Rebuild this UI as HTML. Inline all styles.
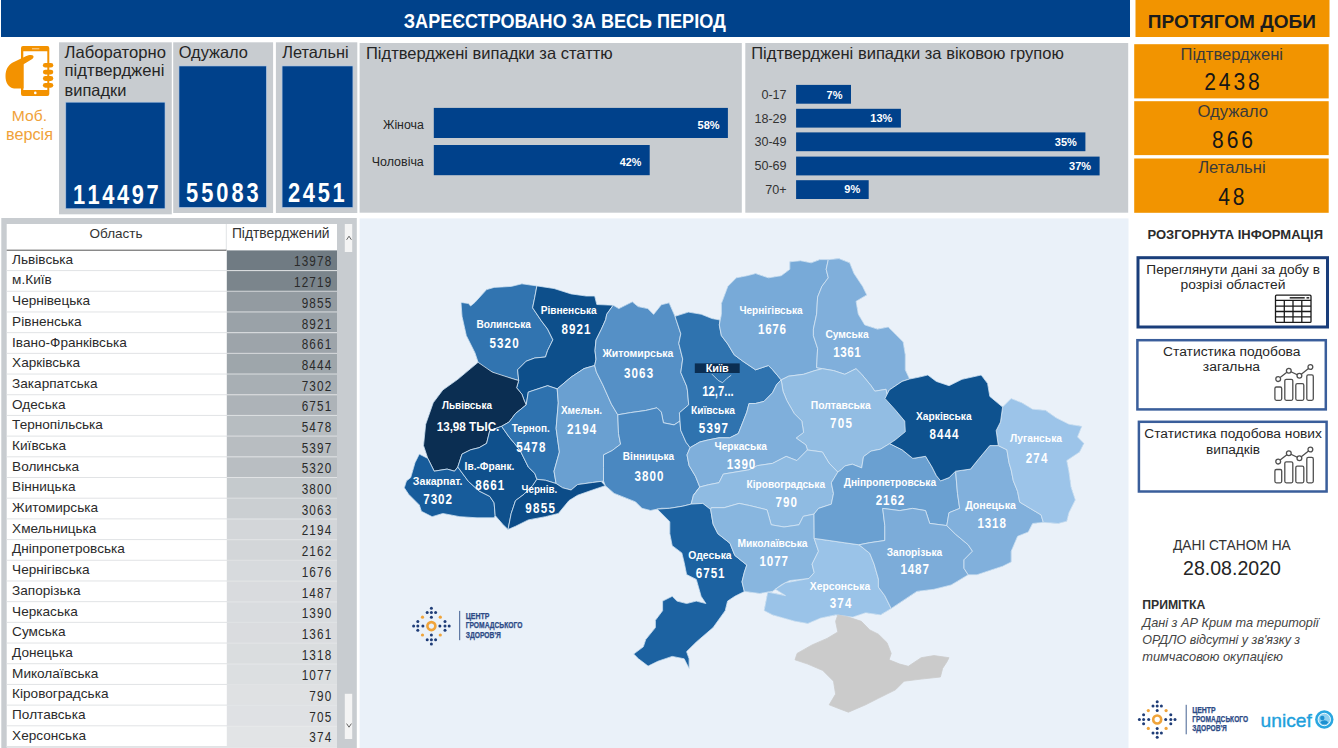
<!DOCTYPE html>
<html><head><meta charset="utf-8"><title>dashboard</title>
<style>
html,body{margin:0;padding:0;width:1338px;height:748px;overflow:hidden;background:#fff}
svg{display:block;font-family:"Liberation Sans",sans-serif}
</style></head><body>
<svg width="1338" height="748" viewBox="0 0 1338 748">
<rect x="1" y="0" width="1129" height="37" fill="#00428b"/>
<text x="403.8" y="28" font-size="20" font-weight="bold" fill="#fff" text-anchor="start" textLength="322" lengthAdjust="spacingAndGlyphs">ЗАРЕЄСТРОВАНО ЗА ВЕСЬ ПЕРІОД</text>
<rect x="1135.5" y="0" width="194" height="37" fill="#f29400"/>
<text x="1147.8" y="27.8" font-size="19" font-weight="bold" fill="#1c1c1c" text-anchor="start" textLength="168" lengthAdjust="spacingAndGlyphs">ПРОТЯГОМ ДОБИ</text>
<g fill="#f39200">
<path d="M23,46 h24.3 a2,2 0 0 1 2,2 v46.1 a2,2 0 0 1 -2,2 h-24.3 a2,2 0 0 1 -2,-2 v-46.1 a2,2 0 0 1 2,-2 z M23.3,51.2 v38.9 h24 v-38.9 z" fill-rule="evenodd"/>
<path d="M33,55.6 C32,54.4 28.5,55 25.8,56.2 L12.8,62.6 C8.2,65.2 5.6,69.8 5.5,76 C5.4,82.5 8.2,87.6 14,88.4 L23.6,88.4 L23.6,64.2 L31,59.8 C33.6,58.4 34.2,57 33,55.6 z"/>
<rect x="42.9" y="62.9" width="10.4" height="4.6" rx="2.3"/>
<rect x="42.9" y="69.7" width="10.4" height="4.8" rx="2.4"/>
<rect x="42.9" y="76.1" width="10.4" height="4.8" rx="2.4"/>
<rect x="42.9" y="82.9" width="10.4" height="4.8" rx="2.4"/>
</g>
<rect x="32" y="48" width="7.3" height="1.4" fill="#f8c070"/>
<circle cx="35.3" cy="92.9" r="1.3" fill="#fff"/>
<text x="11.8" y="120.7" font-size="15.5" fill="#f0a23a" text-anchor="start" textLength="35.2" lengthAdjust="spacingAndGlyphs">Моб.</text>
<text x="6" y="139.5" font-size="16" fill="#f0a23a" text-anchor="start" textLength="47" lengthAdjust="spacingAndGlyphs">версія</text>
<rect x="59" y="42.3" width="112.8" height="172" fill="#c8ccd0"/>
<rect x="173.2" y="42.3" width="99.9" height="170.7" fill="#c8ccd0"/>
<rect x="275.9" y="42.3" width="81.4" height="170.7" fill="#c8ccd0"/>
<rect x="65.8" y="102.2" width="99.2" height="106.5" fill="#00418b" stroke="#a9c4e4" stroke-width="0.6"/>
<rect x="179" y="66" width="87.3" height="141.3" fill="#00418b" stroke="#a9c4e4" stroke-width="0.6"/>
<rect x="282.1" y="66" width="70.8" height="141.3" fill="#00418b" stroke="#a9c4e4" stroke-width="0.6"/>
<text x="64.6" y="57.5" font-size="16.5" fill="#252525" text-anchor="start" textLength="101.3" lengthAdjust="spacingAndGlyphs">Лабораторно</text>
<text x="64.6" y="76.2" font-size="16.5" fill="#252525" text-anchor="start" textLength="99.8" lengthAdjust="spacingAndGlyphs">підтверджені</text>
<text x="64.6" y="95.7" font-size="16.5" fill="#252525" text-anchor="start" textLength="61.7" lengthAdjust="spacingAndGlyphs">випадки</text>
<text x="178.7" y="58" font-size="16.5" fill="#252525" text-anchor="start" textLength="69.3" lengthAdjust="spacingAndGlyphs">Одужало</text>
<text x="282.2" y="58" font-size="16.5" fill="#252525" text-anchor="start" textLength="66.4" lengthAdjust="spacingAndGlyphs">Летальні</text>
<g transform="scale(0.81,1)"><text x="89.98 108.17 126.36 144.55 162.74 180.93" y="203.8" font-size="27" font-weight="bold" fill="#fff">114497</text></g>
<g transform="scale(0.81,1)"><text x="229.63 248.35 267.06 285.78 304.49" y="202.5" font-size="27" font-weight="bold" fill="#fff">55083</text></g>
<g transform="scale(0.81,1)"><text x="355.60 373.90 392.20 410.50" y="202.5" font-size="27" font-weight="bold" fill="#fff">2451</text></g>
<rect x="359.6" y="43" width="382.2" height="169.7" fill="#c8ccd0"/>
<text x="366" y="59.2" font-size="16.5" fill="#252525" text-anchor="start" textLength="246.7" lengthAdjust="spacingAndGlyphs">Підтверджені випадки за статтю</text>
<rect x="433.8" y="107.9" width="294.1" height="30.1" fill="#00418b"/>
<rect x="433.8" y="145" width="215.9" height="30.2" fill="#00418b"/>
<text x="423.8" y="128.6" font-size="12.3" fill="#252525" text-anchor="end" textLength="40.8" lengthAdjust="spacingAndGlyphs">Жіноча</text>
<text x="423.8" y="165.5" font-size="12.3" fill="#252525" text-anchor="end" textLength="52" lengthAdjust="spacingAndGlyphs">Чоловіча</text>
<text x="719.6" y="128.6" font-size="11" font-weight="bold" fill="#fff" text-anchor="end" textLength="22.1" lengthAdjust="spacingAndGlyphs">58%</text>
<text x="641.4" y="165.5" font-size="11" font-weight="bold" fill="#fff" text-anchor="end" textLength="21.6" lengthAdjust="spacingAndGlyphs">42%</text>
<rect x="745.3" y="43" width="382.9" height="169.7" fill="#c8ccd0"/>
<text x="751.2" y="59.2" font-size="16.5" fill="#252525" text-anchor="start" textLength="312.7" lengthAdjust="spacingAndGlyphs">Підтверджені випадки за віковою групою</text>
<rect x="796.1" y="84.9" width="54.89999999999998" height="18.8" fill="#00418b"/>
<text x="786.6" y="99" font-size="12.6" fill="#333" text-anchor="end">0-17</text>
<text x="842.5" y="98.5" font-size="11" font-weight="bold" fill="#fff" text-anchor="end">7%</text>
<rect x="796.1" y="108.8" width="104.79999999999995" height="18.8" fill="#00418b"/>
<text x="786.6" y="122.7" font-size="12.6" fill="#333" text-anchor="end">18-29</text>
<text x="892.4" y="122.2" font-size="11" font-weight="bold" fill="#fff" text-anchor="end">13%</text>
<rect x="796.1" y="132.4" width="289.30000000000007" height="18.8" fill="#00418b"/>
<text x="786.6" y="146.3" font-size="12.6" fill="#333" text-anchor="end">30-49</text>
<text x="1076.9" y="145.8" font-size="11" font-weight="bold" fill="#fff" text-anchor="end">35%</text>
<rect x="796.1" y="156.6" width="303.4999999999999" height="18.8" fill="#00418b"/>
<text x="786.6" y="170" font-size="12.6" fill="#333" text-anchor="end">50-69</text>
<text x="1091.1" y="169.5" font-size="11" font-weight="bold" fill="#fff" text-anchor="end">37%</text>
<rect x="796.1" y="180.2" width="72.60000000000002" height="18.8" fill="#00418b"/>
<text x="786.6" y="193.5" font-size="12.6" fill="#333" text-anchor="end">70+</text>
<text x="860.2" y="193.0" font-size="11" font-weight="bold" fill="#fff" text-anchor="end">9%</text>
<rect x="1134.2" y="44.2" width="194.5" height="54.2" fill="#f29400"/>
<rect x="1134.2" y="101.2" width="194.5" height="53.9" fill="#f29400"/>
<rect x="1134.2" y="158.5" width="194.5" height="54.3" fill="#f29400"/>
<text x="1180.5" y="60.2" font-size="16" fill="#3a3a3a" text-anchor="start" textLength="102.5" lengthAdjust="spacingAndGlyphs">Підтверджені</text>
<g transform="scale(0.86,1)"><text x="1400.28 1417.26 1434.24 1451.21" y="90.5" font-size="24.5" fill="#161616">2438</text></g>
<text x="1197.4" y="117.2" font-size="16" fill="#3a3a3a" text-anchor="start" textLength="70.7" lengthAdjust="spacingAndGlyphs">Одужало</text>
<g transform="scale(0.86,1)"><text x="1409.35 1426.33 1443.31" y="148" font-size="24.5" fill="#161616">866</text></g>
<text x="1198.2" y="173.3" font-size="16" fill="#3a3a3a" text-anchor="start" textLength="67.4" lengthAdjust="spacingAndGlyphs">Летальні</text>
<g transform="scale(0.86,1)"><text x="1416.56 1433.54" y="205" font-size="24.5" fill="#161616">48</text></g>
<text x="1147.4" y="239.3" font-size="12.5" font-weight="bold" fill="#2b2b2b" text-anchor="start" textLength="175.6" lengthAdjust="spacingAndGlyphs">РОЗГОРНУТА ІНФОРМАЦІЯ</text>
<rect x="1138" y="257.7" width="189.5" height="69.3" fill="#fff" stroke="#1a3e7b" stroke-width="3"/>
<text x="1146.3" y="274.1" font-size="13.7" fill="#262626" text-anchor="start" textLength="173.7" lengthAdjust="spacingAndGlyphs">Переглянути дані за добу в</text>
<text x="1180.5" y="288.6" font-size="13.7" fill="#262626" text-anchor="start" textLength="105" lengthAdjust="spacingAndGlyphs">розрізі областей</text>
<g stroke="#1a1a1a" fill="none" stroke-width="1.3"><rect x="1275.5" y="295.2" width="35.5" height="27.2" rx="1"/><line x1="1275.5" y1="300.3" x2="1311" y2="300.3"/><line x1="1275.5" y1="306.1" x2="1311" y2="306.1"/><line x1="1275.5" y1="311.5" x2="1311" y2="311.5"/><line x1="1275.5" y1="316.9" x2="1311" y2="316.9"/><line x1="1284.3" y1="300.3" x2="1284.3" y2="322.4"/><line x1="1293" y1="300.3" x2="1293" y2="322.4"/><line x1="1301.8" y1="300.3" x2="1301.8" y2="322.4"/></g>
<rect x="1289.7" y="297" width="15" height="1.6" fill="#333"/>
<rect x="1306.5" y="297" width="2.7" height="1.6" fill="#333"/>
<rect x="1137.4" y="340.2" width="188.4" height="69.2" fill="#fff" stroke="#3a5e9b" stroke-width="2.5"/>
<text x="1163.1" y="356" font-size="13.7" fill="#262626" text-anchor="start" textLength="137.4" lengthAdjust="spacingAndGlyphs">Статистика подобова</text>
<text x="1202.8" y="371.4" font-size="13.7" fill="#262626" text-anchor="start" textLength="57.3" lengthAdjust="spacingAndGlyphs">загальна</text>
<rect x="1138.9" y="421.8" width="187.7" height="69.7" fill="#fff" stroke="#3a5e9b" stroke-width="2.5"/>
<text x="1144.3" y="438.2" font-size="13.7" fill="#262626" text-anchor="start" textLength="177.6" lengthAdjust="spacingAndGlyphs">Статистика подобова нових</text>
<text x="1206" y="454.1" font-size="13.7" fill="#262626" text-anchor="start" textLength="54.1" lengthAdjust="spacingAndGlyphs">випадків</text>
<g transform="translate(1274.5,364.8)" stroke="#505050" fill="none" stroke-width="1.3"><rect x="0.4" y="22.2" width="6.8" height="13.3" rx="1.5"/><rect x="10.3" y="14.5" width="8.0" height="21.0" rx="1.5"/><rect x="21.3" y="18.9" width="8.0" height="16.6" rx="1.5"/><rect x="32.3" y="10.1" width="6.5" height="25.4" rx="1.5"/><polyline points="3.7,14.3 14.3,5.9 24.9,11 35.9,2.2"/><circle cx="3.7" cy="14.3" r="2.4" fill="#fff"/><circle cx="14.3" cy="5.9" r="2.4" fill="#fff"/><circle cx="24.9" cy="11" r="2.4" fill="#fff"/><circle cx="35.9" cy="2.2" r="2.4" fill="#fff"/></g>
<g transform="translate(1274.5,447.3)" stroke="#505050" fill="none" stroke-width="1.3"><rect x="0.4" y="22.2" width="6.8" height="13.3" rx="1.5"/><rect x="10.3" y="14.5" width="8.0" height="21.0" rx="1.5"/><rect x="21.3" y="18.9" width="8.0" height="16.6" rx="1.5"/><rect x="32.3" y="10.1" width="6.5" height="25.4" rx="1.5"/><polyline points="3.7,14.3 14.3,5.9 24.9,11 35.9,2.2"/><circle cx="3.7" cy="14.3" r="2.4" fill="#fff"/><circle cx="14.3" cy="5.9" r="2.4" fill="#fff"/><circle cx="24.9" cy="11" r="2.4" fill="#fff"/><circle cx="35.9" cy="2.2" r="2.4" fill="#fff"/></g>
<text x="1173" y="549.7" font-size="14" fill="#333" text-anchor="start" textLength="117.8" lengthAdjust="spacingAndGlyphs">ДАНІ СТАНОМ НА</text>
<text x="1183" y="574.6" font-size="19.5" fill="#252525" text-anchor="start" textLength="97.9" lengthAdjust="spacingAndGlyphs">28.08.2020</text>
<text x="1142.2" y="608.7" font-size="12.5" font-weight="bold" fill="#2f2f2f" text-anchor="start" textLength="63.1" lengthAdjust="spacingAndGlyphs">ПРИМІТКА</text>
<text x="1142.2" y="626.6" font-size="13" font-style="italic" fill="#444" text-anchor="start" textLength="176.4" lengthAdjust="spacingAndGlyphs">Дані з АР Крим та території</text>
<text x="1142.2" y="643.8" font-size="13" font-style="italic" fill="#444" text-anchor="start" textLength="158" lengthAdjust="spacingAndGlyphs">ОРДЛО відсутні у зв&#x27;язку з</text>
<text x="1142.2" y="661" font-size="13" font-style="italic" fill="#444" text-anchor="start" textLength="140.8" lengthAdjust="spacingAndGlyphs">тимчасовою окупацією</text>
<g transform="translate(1157.2,719.5) scale(1.0)"><circle cx="0" cy="-17.8" r="1.5" fill="#1f3d78"/><circle cx="0" cy="-13.6" r="1.5" fill="#1f3d78"/><circle cx="-4.2" cy="-13.6" r="1.5" fill="#1f3d78"/><circle cx="4.2" cy="-13.6" r="1.5" fill="#1f3d78"/><circle cx="0" cy="-8.9" r="1.5" fill="#1f3d78"/><circle cx="-17.8" cy="0" r="1.5" fill="#1f3d78"/><circle cx="-13.6" cy="0" r="1.5" fill="#1f3d78"/><circle cx="-13.6" cy="-4.7" r="1.5" fill="#1f3d78"/><circle cx="-13.6" cy="4.2" r="1.5" fill="#1f3d78"/><circle cx="-8.5" cy="0" r="1.5" fill="#1f3d78"/><circle cx="0" cy="17.8" r="1.5" fill="#1f3d78"/><circle cx="0" cy="13.6" r="1.5" fill="#1f3d78"/><circle cx="-4.2" cy="13.6" r="1.5" fill="#1f3d78"/><circle cx="4.2" cy="13.6" r="1.5" fill="#1f3d78"/><circle cx="0" cy="8.9" r="1.5" fill="#1f3d78"/><circle cx="17.8" cy="0" r="1.5" fill="#1f3d78"/><circle cx="13.6" cy="0" r="1.5" fill="#1f3d78"/><circle cx="13.6" cy="-4.7" r="1.5" fill="#1f3d78"/><circle cx="13.6" cy="4.2" r="1.5" fill="#1f3d78"/><circle cx="8.5" cy="0" r="1.5" fill="#1f3d78"/><circle cx="-8.9" cy="-8.9" r="1.6" fill="#f0a43a"/><circle cx="8.9" cy="-8.9" r="1.6" fill="#f0a43a"/><circle cx="-8.9" cy="8.9" r="1.6" fill="#f0a43a"/><circle cx="8.9" cy="8.9" r="1.6" fill="#f0a43a"/><circle cx="0" cy="0" r="4" fill="none" stroke="#f0a43a" stroke-width="2.6"/></g>
<line x1="1186.2" y1="704.8" x2="1186.2" y2="734.3" stroke="#2f4f86" stroke-width="0.9"/>
<text x="1192.2" y="712.6" font-size="8.4" font-weight="bold" fill="#2c4a86" text-anchor="start" textLength="23.5" lengthAdjust="spacingAndGlyphs" stroke="#2c4a86" stroke-width="0.25">ЦЕНТР</text>
<text x="1192.2" y="722.0" font-size="8.4" font-weight="bold" fill="#2c4a86" text-anchor="start" textLength="55.9" lengthAdjust="spacingAndGlyphs" stroke="#2c4a86" stroke-width="0.25">ГРОМАДСЬКОГО</text>
<text x="1192.2" y="731.3" font-size="8.4" font-weight="bold" fill="#2c4a86" text-anchor="start" textLength="34.7" lengthAdjust="spacingAndGlyphs" stroke="#2c4a86" stroke-width="0.25">ЗДОРОВ&#x27;Я</text>
<text x="1260.6" y="726.5" font-size="18.5" fill="#1ea0dc" text-anchor="start" textLength="51.3" lengthAdjust="spacingAndGlyphs" stroke="#1ea0dc" stroke-width="0.35">unicef</text>
<g transform="translate(1324.3,719.5)"><circle r="9.2" fill="#2aa6e0"/><circle r="6.2" fill="#8fd0f0" stroke="#fff" stroke-width="0.9"/><circle cx="-2" cy="-1.5" r="2.2" fill="#1e90d0"/><path d="M-4,3 C-2,0 2,0 4,3 L2,5 -2,5z" fill="#1e90d0"/></g>
<rect x="1.3" y="218" width="355.5" height="530" fill="#c8ccd0"/>
<rect x="6.7" y="224" width="330.3" height="523.5" fill="#fff"/>
<text x="89.6" y="238.2" font-size="13.5" fill="#333" text-anchor="start" textLength="53" lengthAdjust="spacingAndGlyphs">Область</text>
<text x="231.9" y="238.2" font-size="13.8" fill="#333" text-anchor="start" textLength="97.7" lengthAdjust="spacingAndGlyphs">Підтверджений</text>
<line x1="226.3" y1="224" x2="226.3" y2="250" stroke="#e2e4e6" stroke-width="1"/>
<rect x="226.8" y="250.4" width="110.2" height="20.69" fill="#707b83"/>
<line x1="6.7" y1="270.59" x2="337" y2="270.59" stroke="#e1e3e5" stroke-width="1"/>
<text x="12.1" y="263.8" font-size="13.6" fill="#2a2a2a" text-anchor="start">Львівська</text>
<g transform="scale(0.84,1)"><text x="349.88 359.10 368.31 377.52 386.74" y="266.5" font-size="14" fill="#2a2a2a">13978</text></g>
<rect x="226.8" y="271.09" width="110.2" height="20.69" fill="#7b858c"/>
<line x1="6.7" y1="291.28" x2="337" y2="291.28" stroke="#e1e3e5" stroke-width="1"/>
<text x="12.1" y="284.49" font-size="13.6" fill="#2a2a2a" text-anchor="start">м.Київ</text>
<g transform="scale(0.84,1)"><text x="349.88 359.10 368.31 377.52 386.74" y="287.19" font-size="14" fill="#2a2a2a">12719</text></g>
<rect x="226.8" y="291.78" width="110.2" height="20.69" fill="#939ba1"/>
<line x1="6.7" y1="311.98" x2="337" y2="311.98" stroke="#e1e3e5" stroke-width="1"/>
<text x="12.1" y="305.18" font-size="13.6" fill="#2a2a2a" text-anchor="start">Чернівецька</text>
<g transform="scale(0.84,1)"><text x="359.10 368.31 377.52 386.74" y="307.88" font-size="14" fill="#2a2a2a">9855</text></g>
<rect x="226.8" y="312.48" width="110.2" height="20.69" fill="#9aa2a8"/>
<line x1="6.7" y1="332.67" x2="337" y2="332.67" stroke="#e1e3e5" stroke-width="1"/>
<text x="12.1" y="325.88" font-size="13.6" fill="#2a2a2a" text-anchor="start">Рівненська</text>
<g transform="scale(0.84,1)"><text x="359.10 368.31 377.52 386.74" y="328.58" font-size="14" fill="#2a2a2a">8921</text></g>
<rect x="226.8" y="333.17" width="110.2" height="20.69" fill="#9da4aa"/>
<line x1="6.7" y1="353.36" x2="337" y2="353.36" stroke="#e1e3e5" stroke-width="1"/>
<text x="12.1" y="346.57" font-size="13.6" fill="#2a2a2a" text-anchor="start">Івано-Франківська</text>
<g transform="scale(0.84,1)"><text x="359.10 368.31 377.52 386.74" y="349.27" font-size="14" fill="#2a2a2a">8661</text></g>
<rect x="226.8" y="353.86" width="110.2" height="20.69" fill="#9ea6ab"/>
<line x1="6.7" y1="374.05" x2="337" y2="374.05" stroke="#e1e3e5" stroke-width="1"/>
<text x="12.1" y="367.26" font-size="13.6" fill="#2a2a2a" text-anchor="start">Харківська</text>
<g transform="scale(0.84,1)"><text x="359.10 368.31 377.52 386.74" y="369.96" font-size="14" fill="#2a2a2a">8444</text></g>
<rect x="226.8" y="374.55" width="110.2" height="20.69" fill="#a8afb4"/>
<line x1="6.7" y1="394.74" x2="337" y2="394.74" stroke="#e1e3e5" stroke-width="1"/>
<text x="12.1" y="387.95" font-size="13.6" fill="#2a2a2a" text-anchor="start">Закарпатська</text>
<g transform="scale(0.84,1)"><text x="359.10 368.31 377.52 386.74" y="390.65" font-size="14" fill="#2a2a2a">7302</text></g>
<rect x="226.8" y="395.24" width="110.2" height="20.69" fill="#adb3b8"/>
<line x1="6.7" y1="415.43" x2="337" y2="415.43" stroke="#e1e3e5" stroke-width="1"/>
<text x="12.1" y="408.64" font-size="13.6" fill="#2a2a2a" text-anchor="start">Одеська</text>
<g transform="scale(0.84,1)"><text x="359.10 368.31 377.52 386.74" y="411.34" font-size="14" fill="#2a2a2a">6751</text></g>
<rect x="226.8" y="415.93" width="110.2" height="20.69" fill="#b7bdc1"/>
<line x1="6.7" y1="436.12" x2="337" y2="436.12" stroke="#e1e3e5" stroke-width="1"/>
<text x="12.1" y="429.33" font-size="13.6" fill="#2a2a2a" text-anchor="start">Тернопільська</text>
<g transform="scale(0.84,1)"><text x="359.10 368.31 377.52 386.74" y="432.03" font-size="14" fill="#2a2a2a">5478</text></g>
<rect x="226.8" y="436.62" width="110.2" height="20.69" fill="#b8bdc1"/>
<line x1="6.7" y1="456.82" x2="337" y2="456.82" stroke="#e1e3e5" stroke-width="1"/>
<text x="12.1" y="450.02" font-size="13.6" fill="#2a2a2a" text-anchor="start">Київська</text>
<g transform="scale(0.84,1)"><text x="359.10 368.31 377.52 386.74" y="452.73" font-size="14" fill="#2a2a2a">5397</text></g>
<rect x="226.8" y="457.32" width="110.2" height="20.69" fill="#b9bec2"/>
<line x1="6.7" y1="477.51" x2="337" y2="477.51" stroke="#e1e3e5" stroke-width="1"/>
<text x="12.1" y="470.72" font-size="13.6" fill="#2a2a2a" text-anchor="start">Волинська</text>
<g transform="scale(0.84,1)"><text x="359.10 368.31 377.52 386.74" y="473.42" font-size="14" fill="#2a2a2a">5320</text></g>
<rect x="226.8" y="478.01" width="110.2" height="20.69" fill="#c5cacd"/>
<line x1="6.7" y1="498.2" x2="337" y2="498.2" stroke="#e1e3e5" stroke-width="1"/>
<text x="12.1" y="491.41" font-size="13.6" fill="#2a2a2a" text-anchor="start">Вінницька</text>
<g transform="scale(0.84,1)"><text x="359.10 368.31 377.52 386.74" y="494.11" font-size="14" fill="#2a2a2a">3800</text></g>
<rect x="226.8" y="498.7" width="110.2" height="20.69" fill="#cbcfd2"/>
<line x1="6.7" y1="518.89" x2="337" y2="518.89" stroke="#e1e3e5" stroke-width="1"/>
<text x="12.1" y="512.1" font-size="13.6" fill="#2a2a2a" text-anchor="start">Житомирська</text>
<g transform="scale(0.84,1)"><text x="359.10 368.31 377.52 386.74" y="514.8" font-size="14" fill="#2a2a2a">3063</text></g>
<rect x="226.8" y="519.39" width="110.2" height="20.69" fill="#d3d6d9"/>
<line x1="6.7" y1="539.58" x2="337" y2="539.58" stroke="#e1e3e5" stroke-width="1"/>
<text x="12.1" y="532.79" font-size="13.6" fill="#2a2a2a" text-anchor="start">Хмельницька</text>
<g transform="scale(0.84,1)"><text x="359.10 368.31 377.52 386.74" y="535.49" font-size="14" fill="#2a2a2a">2194</text></g>
<rect x="226.8" y="540.08" width="110.2" height="20.69" fill="#d3d6d9"/>
<line x1="6.7" y1="560.28" x2="337" y2="560.28" stroke="#e1e3e5" stroke-width="1"/>
<text x="12.1" y="553.48" font-size="13.6" fill="#2a2a2a" text-anchor="start">Дніпропетровська</text>
<g transform="scale(0.84,1)"><text x="359.10 368.31 377.52 386.74" y="556.18" font-size="14" fill="#2a2a2a">2162</text></g>
<rect x="226.8" y="560.77" width="110.2" height="20.69" fill="#d7dadd"/>
<line x1="6.7" y1="580.97" x2="337" y2="580.97" stroke="#e1e3e5" stroke-width="1"/>
<text x="12.1" y="574.17" font-size="13.6" fill="#2a2a2a" text-anchor="start">Чернігівська</text>
<g transform="scale(0.84,1)"><text x="359.10 368.31 377.52 386.74" y="576.88" font-size="14" fill="#2a2a2a">1676</text></g>
<rect x="226.8" y="581.47" width="110.2" height="20.69" fill="#d9dbde"/>
<line x1="6.7" y1="601.66" x2="337" y2="601.66" stroke="#e1e3e5" stroke-width="1"/>
<text x="12.1" y="594.87" font-size="13.6" fill="#2a2a2a" text-anchor="start">Запорізька</text>
<g transform="scale(0.84,1)"><text x="359.10 368.31 377.52 386.74" y="597.57" font-size="14" fill="#2a2a2a">1487</text></g>
<rect x="226.8" y="602.16" width="110.2" height="20.69" fill="#d9dcdf"/>
<line x1="6.7" y1="622.35" x2="337" y2="622.35" stroke="#e1e3e5" stroke-width="1"/>
<text x="12.1" y="615.56" font-size="13.6" fill="#2a2a2a" text-anchor="start">Черкаська</text>
<g transform="scale(0.84,1)"><text x="359.10 368.31 377.52 386.74" y="618.26" font-size="14" fill="#2a2a2a">1390</text></g>
<rect x="226.8" y="622.85" width="110.2" height="20.69" fill="#dadcdf"/>
<line x1="6.7" y1="643.04" x2="337" y2="643.04" stroke="#e1e3e5" stroke-width="1"/>
<text x="12.1" y="636.25" font-size="13.6" fill="#2a2a2a" text-anchor="start">Сумська</text>
<g transform="scale(0.84,1)"><text x="359.10 368.31 377.52 386.74" y="638.95" font-size="14" fill="#2a2a2a">1361</text></g>
<rect x="226.8" y="643.54" width="110.2" height="20.69" fill="#dadddf"/>
<line x1="6.7" y1="663.73" x2="337" y2="663.73" stroke="#e1e3e5" stroke-width="1"/>
<text x="12.1" y="656.94" font-size="13.6" fill="#2a2a2a" text-anchor="start">Донецька</text>
<g transform="scale(0.84,1)"><text x="359.10 368.31 377.52 386.74" y="659.64" font-size="14" fill="#2a2a2a">1318</text></g>
<rect x="226.8" y="664.23" width="110.2" height="20.69" fill="#dcdfe1"/>
<line x1="6.7" y1="684.43" x2="337" y2="684.43" stroke="#e1e3e5" stroke-width="1"/>
<text x="12.1" y="677.63" font-size="13.6" fill="#2a2a2a" text-anchor="start">Миколаївська</text>
<g transform="scale(0.84,1)"><text x="359.10 368.31 377.52 386.74" y="680.33" font-size="14" fill="#2a2a2a">1077</text></g>
<rect x="226.8" y="684.92" width="110.2" height="20.69" fill="#dfe1e3"/>
<line x1="6.7" y1="705.12" x2="337" y2="705.12" stroke="#e1e3e5" stroke-width="1"/>
<text x="12.1" y="698.32" font-size="13.6" fill="#2a2a2a" text-anchor="start">Кіровоградська</text>
<g transform="scale(0.84,1)"><text x="368.31 377.52 386.74" y="701.02" font-size="14" fill="#2a2a2a">790</text></g>
<rect x="226.8" y="705.62" width="110.2" height="20.69" fill="#dfe1e4"/>
<line x1="6.7" y1="725.81" x2="337" y2="725.81" stroke="#e1e3e5" stroke-width="1"/>
<text x="12.1" y="719.02" font-size="13.6" fill="#2a2a2a" text-anchor="start">Полтавська</text>
<g transform="scale(0.84,1)"><text x="368.31 377.52 386.74" y="721.72" font-size="14" fill="#2a2a2a">705</text></g>
<rect x="226.8" y="726.31" width="110.2" height="20.69" fill="#e2e4e6"/>
<line x1="6.7" y1="746.5" x2="337" y2="746.5" stroke="#e1e3e5" stroke-width="1"/>
<text x="12.1" y="739.71" font-size="13.6" fill="#2a2a2a" text-anchor="start">Херсонська</text>
<g transform="scale(0.84,1)"><text x="368.31 377.52 386.74" y="742.41" font-size="14" fill="#2a2a2a">374</text></g>
<line x1="6.7" y1="250.2" x2="226.5" y2="250.2" stroke="#555" stroke-width="1"/>
<rect x="344.8" y="224" width="7.4" height="28" fill="#f4f4f4"/>
<rect x="344.8" y="693.8" width="7.4" height="45.2" fill="#f4f4f4"/>
<polyline points="346.6,239.8 349,236.2 351.4,239.8" fill="none" stroke="#555" stroke-width="0.9"/>
<polyline points="346.6,723.6 349,727.2 351.4,723.6" fill="none" stroke="#555" stroke-width="0.9"/>
<rect x="359.6" y="218.4" width="768.9" height="529.6" fill="#eaf1f9"/>
<g fill="#6a9fd0">
<polygon points="461.0,302.4 468.4,303.5 470.6,306.0 474.9,302.4 486.6,289.6 494.1,287.4 511.2,286.4 521.9,283.8 536.9,285.9 534.8,297.1 532.6,307.8 541.2,320.6 547.6,329.1 552.9,339.8 547.6,350.5 545.5,357.0 534.8,358.0 526.2,361.2 517.6,369.8 518.7,380.5 496.3,374.1 485.6,368.7 478.1,362.3 474.9,352.7 473.8,350.5 466.3,335.6 462.0,316.3"/>
<polygon points="536.9,285.9 554.0,288.5 571.1,293.9 586.1,296.0 594.7,296.0 596.8,304.5 613.2,305.2 606.7,314.3 605.7,319.6 601.4,329.2 596,340 595,350.6 596,359.2 594.7,365.5 584.0,368.6 571.1,377.1 557.2,388.9 547.6,385.7 528.3,392.1 526.2,404.9 524,400 521.9,394.2 516.6,387.8 518.7,380.5 517.6,369.8 526.2,361.2 534.8,358.0 545.5,357.0 547.6,350.5 552.9,339.8 547.6,329.1 541.2,320.6 532.6,307.8 534.8,297.1"/>
<polygon points="478.1,362.3 492.3,372.1 513.5,379.0 518.7,380.5 516.6,387.8 521.9,394.2 524,400 526.2,404.9 515.5,413.5 509.1,422.0 501.6,426.3 489.8,430.6 486.6,443.4 479.1,447.7 470.6,449.8 462.0,454.1 457.8,467.0 454.5,471.2 447.1,469.1 434.2,471.2 427.8,458.4 423.5,445.6 425.7,424.2 433.2,402.8 442.8,390.0 457.8,379.3 470.6,368.6"/>
<polygon points="427.8,458.4 434.2,471.2 447.1,469.1 454.5,471.2 457.8,467.0 468.4,481.4 479.1,491.0 489.8,496.4 494.1,502.8 495.2,515.6 494.1,517.8 477.0,517.8 459.9,516.7 442.8,513.5 432.1,516.7 421.4,511.3 419.3,504.9 408.6,494.2 404.3,487.8 406.4,481 410.7,477.6 415.0,462.7 419.3,454.1"/>
<polygon points="462.0,454.1 470.6,449.8 479.1,447.7 486.6,443.4 489.8,430.6 501.6,426.3 509.1,437.0 519.8,449.8 528.3,467.0 534.8,473.4 536.9,479.3 532.6,485.7 524.1,494.2 515.5,500.6 511.2,513.5 508.0,529.5 502.7,524.2 495.2,515.6 494.1,502.8 489.8,496.4 479.1,491.0 468.4,481.4 457.8,467.0"/>
<polygon points="526.2,404.9 528.3,392.1 547.6,385.7 557.2,388.9 558.3,402.8 556.1,428.4 559.4,452.0 554.0,471.2 556.1,483.5 545.5,480.3 536.9,479.3 534.8,473.4 528.3,467.0 519.8,449.8 509.1,437.0 501.6,426.3 509.1,422.0 515.5,413.5"/>
<polygon points="557.2,388.9 571.1,377.1 584.0,368.6 594.7,365.5 596.4,372.0 602.8,384.8 611.4,404.1 617.8,414.8 618.5,433.5 620.6,444.2 612.1,450.6 603.5,454.9 603.5,467.7 603.5,481 601.1,481.4 592.5,482.5 577.5,484.6 571.1,490.0 562.6,487.8 556.1,483.5 554.0,471.2 559.4,452.0 556.1,428.4 558.3,402.8"/>
<polygon points="536.9,479.3 545.5,480.3 556.1,483.5 562.6,487.8 571.1,490.0 577.5,484.6 592.5,482.5 601.1,481.4 605.3,485.7 592.5,490.0 577.5,495.3 569.0,500.6 558.3,513.5 545.5,516.7 528.3,519.9 515.5,526.3 508.0,529.5 511.2,513.5 515.5,500.6 524.1,494.2 532.6,485.7"/>
<polygon points="613.2,305.2 618.8,308.6 632.3,301.8 638.1,306.6 647.8,308.6 653.6,314.4 661.4,304.7 669.1,302.8 675,316.3 680.8,333.8 678.8,343.4 682.7,359 680.8,372.5 686.6,386.1 687.4,390.1 688.7,404.8 679.4,412.8 680,421 674.1,424.9 663.4,422.8 661.3,412.1 657.0,407.8 645.6,410.5 630.6,412.6 617.8,414.8 611.4,404.1 602.8,384.8 596.4,372.0 594.7,365.5 596,359.2 595,350.6 596,340 601.4,329.2 605.7,319.6 606.7,314.3"/>
<polygon points="617.8,414.8 630.6,412.6 645.6,410.5 657.0,407.8 661.3,412.1 663.4,422.8 674.1,424.9 680,421 680.7,430.2 686,442.2 690.1,447.6 687.0,454.9 689.1,465.6 695.5,476.3 699.8,487.0 693.4,495.5 691.2,504.1 682.7,506.2 669.8,508.3 661.3,508.3 650.6,510.5 642.0,508.3 635.6,501.9 614.2,493.4 605.3,485.7 603.5,481 603.5,467.7 603.5,454.9 612.1,450.6 620.6,444.2 618.5,433.5"/>
<polygon points="675,316.3 675,316.3 688.4,312.1 701.2,314.2 711.9,318.5 720,320 719.3,324.9 721.4,335.6 727.8,344.1 734.2,354.8 742.8,361.2 755.6,369.8 768.4,365.5 772.7,369.8 781.2,379.9 776.8,384.3 772.5,392.8 764.0,401.4 755.4,403.5 749.0,403.5 746.8,412.1 742.6,422.8 738.3,433.5 729.7,437.8 719.0,437.8 708.3,439.9 699.8,442.0 690.1,447.6 686,442.2 680.7,430.2 680,421 679.4,412.8 688.7,404.8 687.4,390.1 686.6,386.1 680.8,372.5 682.7,359 678.8,343.4 680.8,333.8"/>
<polygon points="721.4,303.5 727.8,286.4 736.4,277.8 747.1,275.7 755.6,273.5 768.4,277.8 781.3,275.7 789.8,269.3 789.8,261.8 800.5,260.7 811.2,262.8 819.8,259.6 828.3,259.6 826.2,269.3 828.3,277.8 821.9,286.4 817.6,297.1 816.6,314.2 813.4,329.1 813.4,335.6 817.6,348.4 816.6,367.6 822.4,368.7 814.9,370.6 803.6,374.3 788.7,376.2 781.2,379.9 772.7,369.8 768.4,365.5 755.6,369.8 742.8,361.2 734.2,354.8 727.8,344.1 721.4,335.6 719.3,324.9 721.4,314.2"/>
<polygon points="828.3,259.6 839.0,258.6 849.7,262.8 854.0,273.5 862.6,286.4 866.8,294.9 856.1,301.3 858.3,314.2 864.7,324.9 877.5,329.1 888.2,327.0 894.7,333.4 903.2,342.0 905.3,354.8 905.3,369.8 909.6,379 902.1,381.4 889.3,390.0 885.0,398.5 887.9,398.7 886.0,389.3 874.8,391.2 871.0,385.6 861.7,374.3 856.0,368.7 844.8,374.3 833.6,370.6 822.4,368.7 816.6,367.6 817.6,348.4 813.4,335.6 813.4,329.1 816.6,314.2 817.6,297.1 821.9,286.4 828.3,277.8 826.2,269.3"/>
<polygon points="781.2,379.9 788.7,376.2 803.6,374.3 814.9,370.6 822.4,368.7 833.6,370.6 844.8,374.3 856.0,368.7 861.7,374.3 871.0,385.6 874.8,391.2 886.0,389.3 887.9,398.7 895.3,409.9 904.7,421.1 908.4,428.6 901.0,436.1 889.7,443.6 880.4,449.2 871.0,451.1 863.5,456.7 861.7,467.9 852.3,464.2 844.8,466.0 841.1,469.8 837.8,472.1 829,463 822.4,452 807.4,450 806,445 796.1,438.0 803.6,432.4 801.8,421.1 794.3,413.6 786.8,400.5 783.0,391.2"/>
<polygon points="690.1,447.6 699.8,442.0 708.3,439.9 719.0,437.8 729.7,437.8 738.3,433.5 742.6,422.8 746.8,412.1 749.0,403.5 755.4,403.5 764.0,401.4 772.5,392.8 776.8,384.3 781.2,379.9 783.0,391.2 786.8,400.5 794.3,413.6 801.8,421.1 803.6,432.4 796.1,438.0 806,445 807.4,450 807.4,450 796.9,460.6 786.2,456.4 772.5,463.4 757.5,465.6 749.0,469.8 723.3,474.1 719.0,482.7 708.3,484.8 699.8,487.0 693.4,495.5 699.8,487.0 695.5,476.3 689.1,465.6 687.0,454.9"/>
<polygon points="693.4,495.5 699.8,487.0 708.3,484.8 719.0,482.7 723.3,474.1 749.0,469.8 757.5,465.6 772.5,463.4 786.2,456.4 796.9,460.6 804.6,452.8 807.4,450 822.4,452 829,463 837.8,472.1 831.3,482.8 833.5,493.5 831.3,504.2 818.5,508.4 814.0,514.1 803.3,516.3 799.0,524.8 784.1,527.0 771.2,524.8 767.0,509.8 749.8,505.6 739.1,503.4 724.2,507.7 711.3,507.7 710.7,509.6 702.8,503.4 691.2,504.1 691.2,504.1"/>
<polygon points="657.2,509.1 669.8,508.3 682.7,506.2 691.2,504.1 691.2,504.1 702.8,503.4 710.7,509.6 713.1,524.1 717.9,533.7 730.0,543.3 734.8,555.4 746.8,565.0 744.4,572.2 742.0,581.8 744.4,591.5 734.8,596.3 727.6,601.1 725.2,610.7 713.1,627.6 696.3,642.0 686.6,651.6 689.1,658.8 689.1,668.5 684.2,658.8 672.2,656.4 657.8,661.3 648.1,666.1 638.5,658.8 633.7,654.0 643.3,646.8 645.7,639.6 655.4,627.6 655.4,620.3 662.6,610.7 662.6,601.1 672.2,596.3 677.0,601.1 686.6,603.5 696.3,601.1 705.9,603.5 701.1,596.3 696.3,579.4 686.6,574.6 684.2,562.6 681.8,552.9 672.2,545.7 669.8,533.7 669.8,521.7"/>
<polygon points="710.7,509.6 711.3,507.7 724.2,507.7 739.1,503.4 749.8,505.6 767.0,509.8 771.2,524.8 784.1,527.0 799.0,524.8 803.3,516.3 814.0,514.1 814.2,538.4 818.5,551.2 812.1,564.1 814.2,572.6 809.0,578.5 789.7,580.6 781.2,584.9 772.6,591.3 759.8,593.5 744.4,591.5 742.0,581.8 744.4,572.2 746.8,565.0 734.8,555.4 730.0,543.3 717.9,533.7 713.1,524.1"/>
<polygon points="814.2,538.4 829.2,540.5 844.2,542.7 859.1,544.8 869.8,553.4 874.1,564.1 878.4,579.0 878.4,587.1 884.8,595.7 891.2,608.5 880.5,614.9 865.6,612.8 852.7,617.1 835.6,614.9 820.6,618.1 807.8,623.5 795.0,621.3 780,617.1 772.6,614.9 764.1,610.6 767.7,592.1 785.5,595.6 775.4,589.2 785.4,582.8 809.0,578.5 814.2,572.6 812.1,564.1 818.5,551.2"/>
<polygon points="837.8,472.1 841.1,469.8 844.8,466.0 852.3,464.2 861.7,467.9 863.5,456.7 871.0,451.1 880.4,449.2 889.7,443.6 889.7,443.6 902.1,449.8 912.8,458.4 925.6,456.3 932.0,467.0 936.3,475.5 940.6,480.9 949.1,477.6 955.6,471.2 957.5,493.5 959.7,508.4 949.0,512.7 946.8,525.6 929.7,523.4 925.5,510.6 912.6,508.4 899.8,510.6 882.7,508.4 884.8,525.6 884.8,540.5 869.8,542.7 859.1,544.8 844.2,542.7 829.2,540.5 814.2,538.4 814.0,514.1 818.5,508.4 831.3,504.2 833.5,493.5 831.3,482.8"/>
<polygon points="884.8,540.5 884.8,525.6 882.7,508.4 899.8,510.6 912.6,508.4 925.5,510.6 929.7,523.4 946.8,525.6 955.4,534.1 968.2,544.8 972.5,551.2 964.0,559.8 964.0,568.3 968.2,574.8 957.5,581.2 951.1,585.0 934.0,589.3 916.9,591.4 904.1,599.9 891.2,608.5 884.8,595.7 878.4,587.1 878.4,579.0 874.1,564.1 869.8,553.4 859.1,544.8 869.8,542.7"/>
<polygon points="998.3,445.6 1006.9,449.8 1009.0,462.7 1011.2,470 1013.3,480.7 1017.6,491.4 1019.7,502.1 1030.4,508.5 1041.1,514.9 1043.3,522.4 1032.6,523.5 1028.3,532.0 1017.6,536.3 1011.2,551.3 1011.2,562.0 1002.6,566.3 989.8,570.5 977.0,574.8 968.2,574.8 964.0,568.3 964.0,559.8 972.5,551.2 968.2,544.8 955.4,534.1 946.8,525.6 949.0,512.7 959.7,508.4 957.5,493.5 955.6,471.2 970.5,469.1 979.1,458.4 989.8,445.6"/>
<polygon points="998.3,445.6 996.2,430.6 1000.5,422.0 1002.6,407.1 1011.2,398.5 1021.9,402.8 1032.6,409.2 1045.4,410.3 1056.1,417.8 1068.9,424.2 1081.8,426.3 1077.5,437.0 1083.9,443.4 1079.6,452.0 1066.8,460.5 1068.9,471.2 1071.1,487.1 1075.3,499.9 1068.9,512.8 1066.8,521.3 1058.2,523.5 1043.3,522.4 1041.1,514.9 1030.4,508.5 1019.7,502.1 1017.6,491.4 1013.3,480.7 1011.2,470 1009.0,462.7 1006.9,449.8"/>
<polygon points="885.0,398.5 889.3,390.0 902.1,381.4 909.6,379 919.2,377.1 927.8,375.0 936.3,381.4 949.1,385.7 962.0,379.3 981.2,375.0 987.6,383.5 989.8,396.4 1002.6,407.1 1000.5,422.0 996.2,430.6 998.3,445.6 989.8,445.6 979.1,458.4 970.5,469.1 955.6,471.2 949.1,477.6 940.6,480.9 936.3,475.5 932.0,467.0 925.6,456.3 912.8,458.4 902.1,449.8 889.7,443.6 895.4,439.8 905.3,431.7 904.7,421.1 895.3,409.9"/>
</g>
<g stroke="#d6e6f4" stroke-width="0.8" stroke-linejoin="round">
<polygon points="461.0,302.4 468.4,303.5 470.6,306.0 474.9,302.4 486.6,289.6 494.1,287.4 511.2,286.4 521.9,283.8 536.9,285.9 534.8,297.1 532.6,307.8 541.2,320.6 547.6,329.1 552.9,339.8 547.6,350.5 545.5,357.0 534.8,358.0 526.2,361.2 517.6,369.8 518.7,380.5 496.3,374.1 485.6,368.7 478.1,362.3 474.9,352.7 473.8,350.5 466.3,335.6 462.0,316.3" fill="#3174b0"/>
<polygon points="536.9,285.9 554.0,288.5 571.1,293.9 586.1,296.0 594.7,296.0 596.8,304.5 613.2,305.2 606.7,314.3 605.7,319.6 601.4,329.2 596,340 595,350.6 596,359.2 594.7,365.5 584.0,368.6 571.1,377.1 557.2,388.9 547.6,385.7 528.3,392.1 526.2,404.9 524,400 521.9,394.2 516.6,387.8 518.7,380.5 517.6,369.8 526.2,361.2 534.8,358.0 545.5,357.0 547.6,350.5 552.9,339.8 547.6,329.1 541.2,320.6 532.6,307.8 534.8,297.1" fill="#0d4f8b"/>
<polygon points="478.1,362.3 492.3,372.1 513.5,379.0 518.7,380.5 516.6,387.8 521.9,394.2 524,400 526.2,404.9 515.5,413.5 509.1,422.0 501.6,426.3 489.8,430.6 486.6,443.4 479.1,447.7 470.6,449.8 462.0,454.1 457.8,467.0 454.5,471.2 447.1,469.1 434.2,471.2 427.8,458.4 423.5,445.6 425.7,424.2 433.2,402.8 442.8,390.0 457.8,379.3 470.6,368.6" fill="#0b2e52"/>
<polygon points="427.8,458.4 434.2,471.2 447.1,469.1 454.5,471.2 457.8,467.0 468.4,481.4 479.1,491.0 489.8,496.4 494.1,502.8 495.2,515.6 494.1,517.8 477.0,517.8 459.9,516.7 442.8,513.5 432.1,516.7 421.4,511.3 419.3,504.9 408.6,494.2 404.3,487.8 406.4,481 410.7,477.6 415.0,462.7 419.3,454.1" fill="#175c9b"/>
<polygon points="462.0,454.1 470.6,449.8 479.1,447.7 486.6,443.4 489.8,430.6 501.6,426.3 509.1,437.0 519.8,449.8 528.3,467.0 534.8,473.4 536.9,479.3 532.6,485.7 524.1,494.2 515.5,500.6 511.2,513.5 508.0,529.5 502.7,524.2 495.2,515.6 494.1,502.8 489.8,496.4 479.1,491.0 468.4,481.4 457.8,467.0" fill="#0f508c"/>
<polygon points="526.2,404.9 528.3,392.1 547.6,385.7 557.2,388.9 558.3,402.8 556.1,428.4 559.4,452.0 554.0,471.2 556.1,483.5 545.5,480.3 536.9,479.3 534.8,473.4 528.3,467.0 519.8,449.8 509.1,437.0 501.6,426.3 509.1,422.0 515.5,413.5" fill="#2e72af"/>
<polygon points="557.2,388.9 571.1,377.1 584.0,368.6 594.7,365.5 596.4,372.0 602.8,384.8 611.4,404.1 617.8,414.8 618.5,433.5 620.6,444.2 612.1,450.6 603.5,454.9 603.5,467.7 603.5,481 601.1,481.4 592.5,482.5 577.5,484.6 571.1,490.0 562.6,487.8 556.1,483.5 554.0,471.2 559.4,452.0 556.1,428.4 558.3,402.8" fill="#6aa0d1"/>
<polygon points="536.9,479.3 545.5,480.3 556.1,483.5 562.6,487.8 571.1,490.0 577.5,484.6 592.5,482.5 601.1,481.4 605.3,485.7 592.5,490.0 577.5,495.3 569.0,500.6 558.3,513.5 545.5,516.7 528.3,519.9 515.5,526.3 508.0,529.5 511.2,513.5 515.5,500.6 524.1,494.2 532.6,485.7" fill="#0c4c88"/>
<polygon points="613.2,305.2 618.8,308.6 632.3,301.8 638.1,306.6 647.8,308.6 653.6,314.4 661.4,304.7 669.1,302.8 675,316.3 680.8,333.8 678.8,343.4 682.7,359 680.8,372.5 686.6,386.1 687.4,390.1 688.7,404.8 679.4,412.8 680,421 674.1,424.9 663.4,422.8 661.3,412.1 657.0,407.8 645.6,410.5 630.6,412.6 617.8,414.8 611.4,404.1 602.8,384.8 596.4,372.0 594.7,365.5 596,359.2 595,350.6 596,340 601.4,329.2 605.7,319.6 606.7,314.3" fill="#5590c6"/>
<polygon points="617.8,414.8 630.6,412.6 645.6,410.5 657.0,407.8 661.3,412.1 663.4,422.8 674.1,424.9 680,421 680.7,430.2 686,442.2 690.1,447.6 687.0,454.9 689.1,465.6 695.5,476.3 699.8,487.0 693.4,495.5 691.2,504.1 682.7,506.2 669.8,508.3 661.3,508.3 650.6,510.5 642.0,508.3 635.6,501.9 614.2,493.4 605.3,485.7 603.5,481 603.5,467.7 603.5,454.9 612.1,450.6 620.6,444.2 618.5,433.5" fill="#4a88c1"/>
<polygon points="675,316.3 675,316.3 688.4,312.1 701.2,314.2 711.9,318.5 720,320 719.3,324.9 721.4,335.6 727.8,344.1 734.2,354.8 742.8,361.2 755.6,369.8 768.4,365.5 772.7,369.8 781.2,379.9 776.8,384.3 772.5,392.8 764.0,401.4 755.4,403.5 749.0,403.5 746.8,412.1 742.6,422.8 738.3,433.5 729.7,437.8 719.0,437.8 708.3,439.9 699.8,442.0 690.1,447.6 686,442.2 680.7,430.2 680,421 679.4,412.8 688.7,404.8 687.4,390.1 686.6,386.1 680.8,372.5 682.7,359 678.8,343.4 680.8,333.8" fill="#2f73af"/>
<polygon points="721.4,303.5 727.8,286.4 736.4,277.8 747.1,275.7 755.6,273.5 768.4,277.8 781.3,275.7 789.8,269.3 789.8,261.8 800.5,260.7 811.2,262.8 819.8,259.6 828.3,259.6 826.2,269.3 828.3,277.8 821.9,286.4 817.6,297.1 816.6,314.2 813.4,329.1 813.4,335.6 817.6,348.4 816.6,367.6 822.4,368.7 814.9,370.6 803.6,374.3 788.7,376.2 781.2,379.9 772.7,369.8 768.4,365.5 755.6,369.8 742.8,361.2 734.2,354.8 727.8,344.1 721.4,335.6 719.3,324.9 721.4,314.2" fill="#78aad8"/>
<polygon points="828.3,259.6 839.0,258.6 849.7,262.8 854.0,273.5 862.6,286.4 866.8,294.9 856.1,301.3 858.3,314.2 864.7,324.9 877.5,329.1 888.2,327.0 894.7,333.4 903.2,342.0 905.3,354.8 905.3,369.8 909.6,379 902.1,381.4 889.3,390.0 885.0,398.5 887.9,398.7 886.0,389.3 874.8,391.2 871.0,385.6 861.7,374.3 856.0,368.7 844.8,374.3 833.6,370.6 822.4,368.7 816.6,367.6 817.6,348.4 813.4,335.6 813.4,329.1 816.6,314.2 817.6,297.1 821.9,286.4 828.3,277.8 826.2,269.3" fill="#80afdb"/>
<polygon points="781.2,379.9 788.7,376.2 803.6,374.3 814.9,370.6 822.4,368.7 833.6,370.6 844.8,374.3 856.0,368.7 861.7,374.3 871.0,385.6 874.8,391.2 886.0,389.3 887.9,398.7 895.3,409.9 904.7,421.1 908.4,428.6 901.0,436.1 889.7,443.6 880.4,449.2 871.0,451.1 863.5,456.7 861.7,467.9 852.3,464.2 844.8,466.0 841.1,469.8 837.8,472.1 829,463 822.4,452 807.4,450 806,445 796.1,438.0 803.6,432.4 801.8,421.1 794.3,413.6 786.8,400.5 783.0,391.2" fill="#92bde3"/>
<polygon points="690.1,447.6 699.8,442.0 708.3,439.9 719.0,437.8 729.7,437.8 738.3,433.5 742.6,422.8 746.8,412.1 749.0,403.5 755.4,403.5 764.0,401.4 772.5,392.8 776.8,384.3 781.2,379.9 783.0,391.2 786.8,400.5 794.3,413.6 801.8,421.1 803.6,432.4 796.1,438.0 806,445 807.4,450 807.4,450 796.9,460.6 786.2,456.4 772.5,463.4 757.5,465.6 749.0,469.8 723.3,474.1 719.0,482.7 708.3,484.8 699.8,487.0 693.4,495.5 699.8,487.0 695.5,476.3 689.1,465.6 687.0,454.9" fill="#7fafdb"/>
<polygon points="693.4,495.5 699.8,487.0 708.3,484.8 719.0,482.7 723.3,474.1 749.0,469.8 757.5,465.6 772.5,463.4 786.2,456.4 796.9,460.6 804.6,452.8 807.4,450 822.4,452 829,463 837.8,472.1 831.3,482.8 833.5,493.5 831.3,504.2 818.5,508.4 814.0,514.1 803.3,516.3 799.0,524.8 784.1,527.0 771.2,524.8 767.0,509.8 749.8,505.6 739.1,503.4 724.2,507.7 711.3,507.7 710.7,509.6 702.8,503.4 691.2,504.1 691.2,504.1" fill="#8fbbe2"/>
<polygon points="657.2,509.1 669.8,508.3 682.7,506.2 691.2,504.1 691.2,504.1 702.8,503.4 710.7,509.6 713.1,524.1 717.9,533.7 730.0,543.3 734.8,555.4 746.8,565.0 744.4,572.2 742.0,581.8 744.4,591.5 734.8,596.3 727.6,601.1 725.2,610.7 713.1,627.6 696.3,642.0 686.6,651.6 689.1,658.8 689.1,668.5 684.2,658.8 672.2,656.4 657.8,661.3 648.1,666.1 638.5,658.8 633.7,654.0 643.3,646.8 645.7,639.6 655.4,627.6 655.4,620.3 662.6,610.7 662.6,601.1 672.2,596.3 677.0,601.1 686.6,603.5 696.3,601.1 705.9,603.5 701.1,596.3 696.3,579.4 686.6,574.6 684.2,562.6 681.8,552.9 672.2,545.7 669.8,533.7 669.8,521.7" fill="#1c62a1"/>
<polygon points="710.7,509.6 711.3,507.7 724.2,507.7 739.1,503.4 749.8,505.6 767.0,509.8 771.2,524.8 784.1,527.0 799.0,524.8 803.3,516.3 814.0,514.1 814.2,538.4 818.5,551.2 812.1,564.1 814.2,572.6 809.0,578.5 789.7,580.6 781.2,584.9 772.6,591.3 759.8,593.5 744.4,591.5 742.0,581.8 744.4,572.2 746.8,565.0 734.8,555.4 730.0,543.3 717.9,533.7 713.1,524.1" fill="#88b6df"/>
<polygon points="814.2,538.4 829.2,540.5 844.2,542.7 859.1,544.8 869.8,553.4 874.1,564.1 878.4,579.0 878.4,587.1 884.8,595.7 891.2,608.5 880.5,614.9 865.6,612.8 852.7,617.1 835.6,614.9 820.6,618.1 807.8,623.5 795.0,621.3 780,617.1 772.6,614.9 764.1,610.6 767.7,592.1 785.5,595.6 775.4,589.2 785.4,582.8 809.0,578.5 814.2,572.6 812.1,564.1 818.5,551.2" fill="#9ac3e8"/>
<polygon points="837.8,472.1 841.1,469.8 844.8,466.0 852.3,464.2 861.7,467.9 863.5,456.7 871.0,451.1 880.4,449.2 889.7,443.6 889.7,443.6 902.1,449.8 912.8,458.4 925.6,456.3 932.0,467.0 936.3,475.5 940.6,480.9 949.1,477.6 955.6,471.2 957.5,493.5 959.7,508.4 949.0,512.7 946.8,525.6 929.7,523.4 925.5,510.6 912.6,508.4 899.8,510.6 882.7,508.4 884.8,525.6 884.8,540.5 869.8,542.7 859.1,544.8 844.2,542.7 829.2,540.5 814.2,538.4 814.0,514.1 818.5,508.4 831.3,504.2 833.5,493.5 831.3,482.8" fill="#6aa0d1"/>
<polygon points="884.8,540.5 884.8,525.6 882.7,508.4 899.8,510.6 912.6,508.4 925.5,510.6 929.7,523.4 946.8,525.6 955.4,534.1 968.2,544.8 972.5,551.2 964.0,559.8 964.0,568.3 968.2,574.8 957.5,581.2 951.1,585.0 934.0,589.3 916.9,591.4 904.1,599.9 891.2,608.5 884.8,595.7 878.4,587.1 878.4,579.0 874.1,564.1 869.8,553.4 859.1,544.8 869.8,542.7" fill="#7cacd9"/>
<polygon points="998.3,445.6 1006.9,449.8 1009.0,462.7 1011.2,470 1013.3,480.7 1017.6,491.4 1019.7,502.1 1030.4,508.5 1041.1,514.9 1043.3,522.4 1032.6,523.5 1028.3,532.0 1017.6,536.3 1011.2,551.3 1011.2,562.0 1002.6,566.3 989.8,570.5 977.0,574.8 968.2,574.8 964.0,568.3 964.0,559.8 972.5,551.2 968.2,544.8 955.4,534.1 946.8,525.6 949.0,512.7 959.7,508.4 957.5,493.5 955.6,471.2 970.5,469.1 979.1,458.4 989.8,445.6" fill="#81b0dc"/>
<polygon points="998.3,445.6 996.2,430.6 1000.5,422.0 1002.6,407.1 1011.2,398.5 1021.9,402.8 1032.6,409.2 1045.4,410.3 1056.1,417.8 1068.9,424.2 1081.8,426.3 1077.5,437.0 1083.9,443.4 1079.6,452.0 1066.8,460.5 1068.9,471.2 1071.1,487.1 1075.3,499.9 1068.9,512.8 1066.8,521.3 1058.2,523.5 1043.3,522.4 1041.1,514.9 1030.4,508.5 1019.7,502.1 1017.6,491.4 1013.3,480.7 1011.2,470 1009.0,462.7 1006.9,449.8" fill="#9cc4e9"/>
<polygon points="885.0,398.5 889.3,390.0 902.1,381.4 909.6,379 919.2,377.1 927.8,375.0 936.3,381.4 949.1,385.7 962.0,379.3 981.2,375.0 987.6,383.5 989.8,396.4 1002.6,407.1 1000.5,422.0 996.2,430.6 998.3,445.6 989.8,445.6 979.1,458.4 970.5,469.1 955.6,471.2 949.1,477.6 940.6,480.9 936.3,475.5 932.0,467.0 925.6,456.3 912.8,458.4 902.1,449.8 889.7,443.6 895.4,439.8 905.3,431.7 904.7,421.1 895.3,409.9" fill="#0e528f"/>
</g>
<polygon points="837.8,614.9 848.4,617.1 861.3,621.3 869.8,629.9 878.4,634.2 887.0,642.7 891.2,653.4 889.1,659.8 899.8,664.1 908.3,666.3 921.2,657.7 934.0,655.6 949.0,657.7 946.8,662.0 942.6,668.4 940.4,677.0 921.2,679.1 904.1,681.2 895.5,689.8 878.4,698.3 865.6,704.8 848.4,712.2 839.9,709.0 829.2,704.8 835.6,694.1 833.5,681.2 822.8,670.5 807.8,664.1 795.0,659.8 797.1,653.4 812.1,644.9 827.1,638.4 837.8,632.0 835.6,621.3" fill="#cbcbcb" stroke="#cbcbcb" stroke-width="0.8"/>
<polyline points="711.9,374.1 718.3,380.5 722.6,382.7 726.9,378.4 731.2,375.2" fill="none" stroke="#d6e6f4" stroke-width="0.8"/>
<rect x="694.8" y="363.4" width="44.9" height="9.6" fill="#0b2e52"/>
<text x="503.7" y="328.1" font-size="11" font-weight="bold" fill="#fff" text-anchor="middle" textLength="54.3" lengthAdjust="spacingAndGlyphs">Волинська</text>
<g transform="scale(0.8,1)"><text x="611.77 621.23 630.70 640.17" y="348" font-size="14.5" font-weight="bold" fill="#fff">5320</text></g>
<text x="568.7" y="313.7" font-size="11" font-weight="bold" fill="#fff" text-anchor="middle" textLength="56.1" lengthAdjust="spacingAndGlyphs">Рівненська</text>
<g transform="scale(0.8,1)"><text x="701.95 711.30 720.64 729.98" y="333.8" font-size="14.5" font-weight="bold" fill="#fff">8921</text></g>
<text x="467" y="408.8" font-size="11" font-weight="bold" fill="#fff" text-anchor="middle" textLength="49.9" lengthAdjust="spacingAndGlyphs">Львівська</text>
<text x="468" y="430.6" font-size="13.5" font-weight="bold" fill="#fff" text-anchor="middle" textLength="62.7" lengthAdjust="spacingAndGlyphs">13,98 ТЫС.</text>
<text x="530.7" y="431.7" font-size="11" font-weight="bold" fill="#fff" text-anchor="middle" textLength="38" lengthAdjust="spacingAndGlyphs">Терноп.</text>
<g transform="scale(0.8,1)"><text x="645.22 654.72 664.22 673.72" y="452" font-size="14.5" font-weight="bold" fill="#fff">5478</text></g>
<text x="581.5" y="413.9" font-size="11" font-weight="bold" fill="#fff" text-anchor="middle" textLength="41.2" lengthAdjust="spacingAndGlyphs">Хмельн.</text>
<g transform="scale(0.8,1)"><text x="708.63 718.19 727.75 737.31" y="433.8" font-size="14.5" font-weight="bold" fill="#fff">2194</text></g>
<text x="489.5" y="470.2" font-size="11" font-weight="bold" fill="#fff" text-anchor="middle" textLength="49.8" lengthAdjust="spacingAndGlyphs">Ів.-Франк.</text>
<g transform="scale(0.8,1)"><text x="594.20 603.55 612.89 622.23" y="490.1" font-size="14.5" font-weight="bold" fill="#fff">8661</text></g>
<text x="437.7" y="484.7" font-size="11" font-weight="bold" fill="#fff" text-anchor="middle" textLength="49.7" lengthAdjust="spacingAndGlyphs">Закарпат.</text>
<g transform="scale(0.8,1)"><text x="528.95 538.30 547.64 556.98" y="503.7" font-size="14.5" font-weight="bold" fill="#fff">7302</text></g>
<text x="539.4" y="492.6" font-size="11" font-weight="bold" fill="#fff" text-anchor="middle" textLength="35.7" lengthAdjust="spacingAndGlyphs">Чернів.</text>
<g transform="scale(0.8,1)"><text x="656.56 666.25 675.94 685.63" y="512.9" font-size="14.5" font-weight="bold" fill="#fff">9855</text></g>
<text x="637.9" y="357" font-size="11" font-weight="bold" fill="#fff" text-anchor="middle" textLength="71" lengthAdjust="spacingAndGlyphs">Житомирська</text>
<g transform="scale(0.8,1)"><text x="779.89 789.36 798.83 808.30" y="378" font-size="14.5" font-weight="bold" fill="#fff">3063</text></g>
<text x="713" y="413.7" font-size="11" font-weight="bold" fill="#fff" text-anchor="middle" textLength="44" lengthAdjust="spacingAndGlyphs">Київська</text>
<g transform="scale(0.8,1)"><text x="873.52 882.98 892.45 901.92" y="432.9" font-size="14.5" font-weight="bold" fill="#fff">5397</text></g>
<text x="771" y="314.2" font-size="11" font-weight="bold" fill="#fff" text-anchor="middle" textLength="63.1" lengthAdjust="spacingAndGlyphs">Чернігівська</text>
<g transform="scale(0.8,1)"><text x="947.47 956.47 965.47 974.47" y="333.8" font-size="14.5" font-weight="bold" fill="#fff">1676</text></g>
<text x="847" y="338.1" font-size="11" font-weight="bold" fill="#fff" text-anchor="middle" textLength="43.2" lengthAdjust="spacingAndGlyphs">Сумська</text>
<g transform="scale(0.8,1)"><text x="1041.50 1050.31 1059.13 1067.94" y="357" font-size="14.5" font-weight="bold" fill="#fff">1361</text></g>
<text x="943.8" y="419.9" font-size="11" font-weight="bold" fill="#fff" text-anchor="middle" textLength="55.6" lengthAdjust="spacingAndGlyphs">Харківська</text>
<g transform="scale(0.8,1)"><text x="1162.00 1171.31 1180.63 1189.94" y="439.1" font-size="14.5" font-weight="bold" fill="#fff">8444</text></g>
<text x="1036" y="442.4" font-size="11" font-weight="bold" fill="#fff" text-anchor="middle" textLength="52" lengthAdjust="spacingAndGlyphs">Луганська</text>
<g transform="scale(0.8,1)"><text x="1282.22 1291.72 1301.22" y="462.7" font-size="14.5" font-weight="bold" fill="#fff">274</text></g>
<text x="889.9" y="486" font-size="11" font-weight="bold" fill="#fff" text-anchor="middle" textLength="92.4" lengthAdjust="spacingAndGlyphs">Дніпропетровська</text>
<g transform="scale(0.8,1)"><text x="1094.64 1103.86 1113.08 1122.30" y="505.2" font-size="14.5" font-weight="bold" fill="#fff">2162</text></g>
<text x="990.5" y="508.5" font-size="11" font-weight="bold" fill="#fff" text-anchor="middle" textLength="50.7" lengthAdjust="spacingAndGlyphs">Донецька</text>
<g transform="scale(0.8,1)"><text x="1221.91 1231.03 1240.16 1249.28" y="528.2" font-size="14.5" font-weight="bold" fill="#fff">1318</text></g>
<text x="914.5" y="555.6" font-size="11" font-weight="bold" fill="#fff" text-anchor="middle" textLength="55.6" lengthAdjust="spacingAndGlyphs">Запорізька</text>
<g transform="scale(0.8,1)"><text x="1125.66 1134.78 1143.91 1153.03" y="574.4" font-size="14.5" font-weight="bold" fill="#fff">1487</text></g>
<text x="840.7" y="409" font-size="11" font-weight="bold" fill="#fff" text-anchor="middle" textLength="59.9" lengthAdjust="spacingAndGlyphs">Полтавська</text>
<g transform="scale(0.8,1)"><text x="1037.43 1047.22 1057.01" y="427.7" font-size="14.5" font-weight="bold" fill="#fff">705</text></g>
<text x="740.8" y="449.9" font-size="11" font-weight="bold" fill="#fff" text-anchor="middle" textLength="52.5" lengthAdjust="spacingAndGlyphs">Черкаська</text>
<g transform="scale(0.8,1)"><text x="908.39 917.61 926.83 936.05" y="469.2" font-size="14.5" font-weight="bold" fill="#fff">1390</text></g>
<text x="785.8" y="488" font-size="11" font-weight="bold" fill="#fff" text-anchor="middle" textLength="78.5" lengthAdjust="spacingAndGlyphs">Кіровоградська</text>
<g transform="scale(0.8,1)"><text x="969.39 978.72 988.05" y="506.6" font-size="14.5" font-weight="bold" fill="#fff">790</text></g>
<text x="772.5" y="547.3" font-size="11" font-weight="bold" fill="#fff" text-anchor="middle" textLength="70.2" lengthAdjust="spacingAndGlyphs">Миколаївська</text>
<g transform="scale(0.8,1)"><text x="949.31 958.50 967.69 976.88" y="566.5" font-size="14.5" font-weight="bold" fill="#fff">1077</text></g>
<text x="710" y="559" font-size="11" font-weight="bold" fill="#fff" text-anchor="middle" textLength="43.3" lengthAdjust="spacingAndGlyphs">Одеська</text>
<g transform="scale(0.8,1)"><text x="869.80 879.08 888.36 897.64" y="578.3" font-size="14.5" font-weight="bold" fill="#fff">6751</text></g>
<text x="648.5" y="460.2" font-size="11" font-weight="bold" fill="#fff" text-anchor="middle" textLength="51.3" lengthAdjust="spacingAndGlyphs">Вінницька</text>
<g transform="scale(0.8,1)"><text x="793.20 802.55 811.89 821.23" y="481" font-size="14.5" font-weight="bold" fill="#fff">3800</text></g>
<text x="840" y="589.7" font-size="11" font-weight="bold" fill="#fff" text-anchor="middle" textLength="60.3" lengthAdjust="spacingAndGlyphs">Херсонська</text>
<g transform="scale(0.8,1)"><text x="1037.09 1046.72 1056.34" y="608.5" font-size="14.5" font-weight="bold" fill="#fff">374</text></g>
<text x="717.2" y="372" font-size="11" font-weight="bold" fill="#fff" text-anchor="middle" textLength="23" lengthAdjust="spacingAndGlyphs">Київ</text>
<text x="718" y="395.5" font-size="14.5" font-weight="bold" fill="#fff" text-anchor="middle" textLength="31.4" lengthAdjust="spacingAndGlyphs">12,7...</text>
<g transform="translate(431.4,626.1) scale(1.0)"><circle cx="0" cy="-17.8" r="1.5" fill="#1f3d78"/><circle cx="0" cy="-13.6" r="1.5" fill="#1f3d78"/><circle cx="-4.2" cy="-13.6" r="1.5" fill="#1f3d78"/><circle cx="4.2" cy="-13.6" r="1.5" fill="#1f3d78"/><circle cx="0" cy="-8.9" r="1.5" fill="#1f3d78"/><circle cx="-17.8" cy="0" r="1.5" fill="#1f3d78"/><circle cx="-13.6" cy="0" r="1.5" fill="#1f3d78"/><circle cx="-13.6" cy="-4.7" r="1.5" fill="#1f3d78"/><circle cx="-13.6" cy="4.2" r="1.5" fill="#1f3d78"/><circle cx="-8.5" cy="0" r="1.5" fill="#1f3d78"/><circle cx="0" cy="17.8" r="1.5" fill="#1f3d78"/><circle cx="0" cy="13.6" r="1.5" fill="#1f3d78"/><circle cx="-4.2" cy="13.6" r="1.5" fill="#1f3d78"/><circle cx="4.2" cy="13.6" r="1.5" fill="#1f3d78"/><circle cx="0" cy="8.9" r="1.5" fill="#1f3d78"/><circle cx="17.8" cy="0" r="1.5" fill="#1f3d78"/><circle cx="13.6" cy="0" r="1.5" fill="#1f3d78"/><circle cx="13.6" cy="-4.7" r="1.5" fill="#1f3d78"/><circle cx="13.6" cy="4.2" r="1.5" fill="#1f3d78"/><circle cx="8.5" cy="0" r="1.5" fill="#1f3d78"/><circle cx="-8.9" cy="-8.9" r="1.6" fill="#f0a43a"/><circle cx="8.9" cy="-8.9" r="1.6" fill="#f0a43a"/><circle cx="-8.9" cy="8.9" r="1.6" fill="#f0a43a"/><circle cx="8.9" cy="8.9" r="1.6" fill="#f0a43a"/><circle cx="0" cy="0" r="4" fill="none" stroke="#f0a43a" stroke-width="2.6"/></g>
<line x1="459.7" y1="610.9" x2="459.7" y2="640.2" stroke="#2f4f86" stroke-width="0.9"/>
<text x="465.7" y="619.4" font-size="8.4" font-weight="bold" fill="#2c4a86" text-anchor="start" textLength="23.8" lengthAdjust="spacingAndGlyphs" stroke="#2c4a86" stroke-width="0.25">ЦЕНТР</text>
<text x="465.7" y="628.3" font-size="8.4" font-weight="bold" fill="#2c4a86" text-anchor="start" textLength="56.7" lengthAdjust="spacingAndGlyphs" stroke="#2c4a86" stroke-width="0.25">ГРОМАДСЬКОГО</text>
<text x="465.7" y="637.7" font-size="8.4" font-weight="bold" fill="#2c4a86" text-anchor="start" textLength="35.2" lengthAdjust="spacingAndGlyphs" stroke="#2c4a86" stroke-width="0.25">ЗДОРОВ&#x27;Я</text>
</svg>
</body></html>
